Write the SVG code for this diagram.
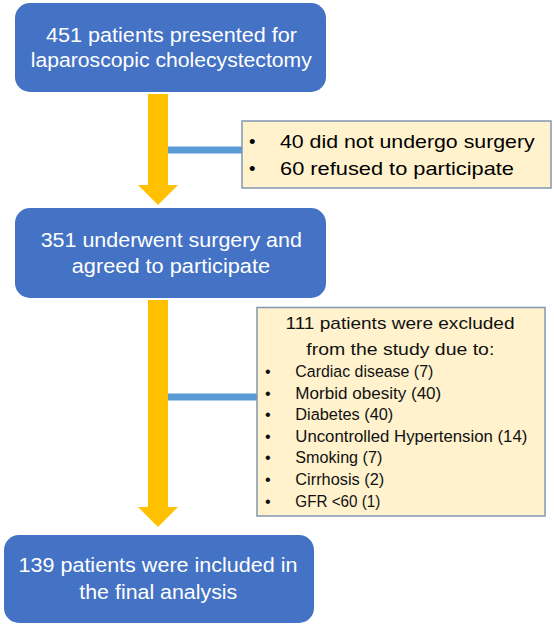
<svg xmlns="http://www.w3.org/2000/svg" width="554" height="627" viewBox="0 0 554 627">
<style>
.blue{fill:#4472C4}
.note{fill:#FFF2CC;stroke:#8497B0;stroke-width:1.5}
.wt{font-family:"Liberation Sans",Arial,sans-serif;font-size:20.5px;fill:#fff;text-anchor:middle}
.nt{font-family:"Liberation Sans",Arial,sans-serif;font-size:18.5px;fill:#000}
.nt2{font-family:"Liberation Sans",Arial,sans-serif;font-size:17px;fill:#111;text-anchor:middle}
.it{font-family:"Liberation Sans",Arial,sans-serif;font-size:16.3px;fill:#111}
.arrow{fill:#FFC000}
.link{stroke:#5B9BD5;stroke-width:7;fill:none}
</style>
<rect width="554" height="627" fill="#fff"/>
<g id="connectors">
<polygon class="arrow" points="148,94 168,94 168,185 178,185 158,205 138,185 148,185"/>
<polygon class="arrow" points="148,300 168,300 168,507 178,507 158,527 138,507 148,507"/>
<line class="link" x1="168" y1="150" x2="242" y2="150"/>
<line class="link" x1="168" y1="397" x2="257" y2="397"/>
</g>
<g id="n1">
<rect class="blue" x="15" y="3" width="311" height="89" rx="15"/>
<text class="wt" x="171.5" y="41.5" textLength="251" lengthAdjust="spacingAndGlyphs">451 patients presented for</text>
<text class="wt" x="171.3" y="66.7" textLength="281" lengthAdjust="spacingAndGlyphs">laparoscopic cholecystectomy</text>
</g>
<g id="n2">
<rect class="note" x="242" y="121" width="309" height="67"/>
<text class="nt" x="249" y="148">•</text>
<text class="nt" x="280" y="148" textLength="254.7" lengthAdjust="spacingAndGlyphs">40 did not undergo surgery</text>
<text class="nt" x="249" y="175">•</text>
<text class="nt" x="280" y="175" textLength="234" lengthAdjust="spacingAndGlyphs">60 refused to participate</text>
</g>
<g id="n3">
<rect class="blue" x="15" y="208" width="311" height="90" rx="15"/>
<text class="wt" x="171.3" y="246.7" textLength="261.3" lengthAdjust="spacingAndGlyphs">351 underwent surgery and</text>
<text class="wt" x="170.9" y="272.7" textLength="198.3" lengthAdjust="spacingAndGlyphs">agreed to participate</text>
</g>
<g id="n4">
<rect class="note" x="257" y="307.5" width="288" height="208.5"/>
<text class="nt2" x="400" y="329.3" textLength="229" lengthAdjust="spacingAndGlyphs">111 patients were excluded</text>
<text class="nt2" x="400.3" y="355" textLength="188" lengthAdjust="spacingAndGlyphs">from the study due to:</text>
<g class="it">
<text x="265" y="376.7">•</text><text x="295.3" y="376.7" textLength="138" lengthAdjust="spacingAndGlyphs">Cardiac disease (7)</text>
<text x="265" y="398.5">•</text><text x="295.3" y="398.5" textLength="146" lengthAdjust="spacingAndGlyphs">Morbid obesity (40)</text>
<text x="265" y="420">•</text><text x="295.3" y="420" textLength="98" lengthAdjust="spacingAndGlyphs">Diabetes (40)</text>
<text x="265" y="441.7">•</text><text x="295.3" y="441.7" textLength="232" lengthAdjust="spacingAndGlyphs">Uncontrolled Hypertension (14)</text>
<text x="265" y="463.3">•</text><text x="295.3" y="463.3" textLength="87" lengthAdjust="spacingAndGlyphs">Smoking (7)</text>
<text x="265" y="485">•</text><text x="295.3" y="485" textLength="89" lengthAdjust="spacingAndGlyphs">Cirrhosis (2)</text>
<text x="265" y="506.7">•</text><text x="295.3" y="506.7" textLength="85" lengthAdjust="spacingAndGlyphs">GFR &lt;60 (1)</text>
</g>
</g>
<g id="n5">
<rect class="blue" x="4" y="535" width="310" height="88" rx="15"/>
<text class="wt" x="158" y="571.7" textLength="279" lengthAdjust="spacingAndGlyphs">139 patients were included in</text>
<text class="wt" x="158.3" y="599" textLength="158" lengthAdjust="spacingAndGlyphs">the final analysis</text>
</g>
</svg>
